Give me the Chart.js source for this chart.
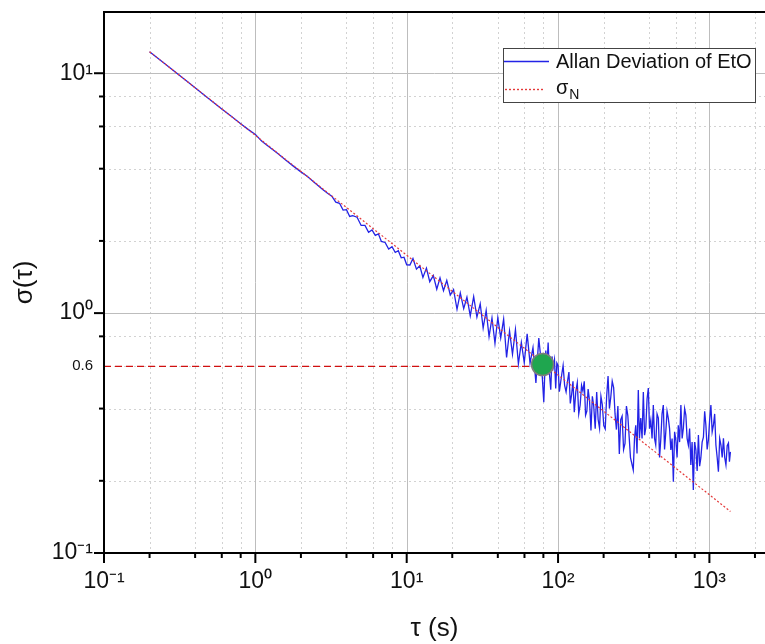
<!DOCTYPE html>
<html>
<head>
<meta charset="utf-8">
<title>Allan Deviation of EtO</title>
<script src="https://cdn.jsdelivr.net/npm/chart.js@4.4.1/dist/chart.umd.min.js"></script>
<style>
    html, body { margin: 0; padding: 0; background: #fff; }
    #wrap { width: 765px; height: 644px; }
</style>
</head>
<body>
<div id="wrap"><canvas id="adevChart" width="765" height="644"></canvas></div>
<script>
// Allan deviation of EtO (tau in s)
const tauValues = [
    0.2, 0.25, 0.3, 0.35, 0.4, 0.45, 0.5, 0.6, 0.7, 0.8, 0.9, 1.0, 1.1, 1.2, 1.4, 1.6, 1.8, 2.0, 2.2, 2.5, 2.8, 3.0,
    3.2, 3.4, 3.6, 3.8, 4.0, 4.2, 4.4, 4.7, 5.0, 5.3, 5.6, 5.9, 6.2, 6.5, 6.8, 7.2, 7.6, 8.0, 8.4, 8.8, 9.2, 9.6, 10,
    10.5, 11, 11.6, 12.2, 12.8, 13.5, 14.2, 15, 15.8, 16.6, 17.5, 18.4, 19.4, 20.4, 21.5, 22.6, 23.8, 25, 26.3, 27.7, 29.1, 30.6,
    32, 33.5, 35, 36.6, 38.3, 40, 41.8, 43.7, 45.7, 47.8, 50, 52.3, 54.7, 57.2, 59.8, 62.5, 65.3, 68.3, 71.4, 74.6, 78,
    80.5, 81.7, 83, 84.5, 86, 87.7, 89.5, 91.2, 93, 94.7, 96.5, 98.2, 100, 102, 104, 106, 108, 110.5, 113, 115.5,
    118, 120.5, 123, 125.5, 128, 131, 134, 137, 140, 143, 146, 149, 152, 155, 158, 161.5, 165, 168.5, 172, 176,
    180, 184, 188, 192, 196, 200.5, 205, 209.5, 214, 218.5, 223, 228, 233, 238, 243, 248.5, 254, 259.5, 265, 271,
    277, 283, 289, 301,
    314, 320, 326, 332.5, 339, 345, 352, 359, 366, 373, 380, 387.5, 395, 402, 410, 418, 426, 434, 442, 451,
    460, 468.5, 477, 486.5, 496, 505.5, 515, 525, 535, 545.5, 556, 567, 578, 589, 600, 611.5, 623, 635.5, 648, 660.5,
    673, 686, 699, 712.5, 726, 740, 754, 768.5, 783, 798.5, 814, 830, 846, 862, 878, 895.5, 913, 930.5, 948, 966.5,
    985, 1004, 1023, 1043, 1063, 1083.5, 1104, 1125.5, 1147, 1169.5, 1192, 1215, 1238, 1262, 1286, 1311, 1336, 1356.5, 1377
];
const sigmaValues = [
    12.3, 11.0, 10.05, 9.3, 8.69, 8.2, 7.77, 7.1, 6.58, 6.16, 5.82, 5.56, 5.22, 5.0, 4.64, 4.33, 4.08, 3.88, 3.72, 3.47, 3.27, 3.16,
    3.07, 2.90, 2.87, 2.69, 2.70, 2.53, 2.55, 2.51, 2.32, 2.32, 2.17, 2.22, 2.11, 2.14, 1.99, 1.97, 1.85, 1.89, 1.79, 1.82, 1.70, 1.71, 1.59,
    1.587, 1.690, 1.525, 1.575, 1.409, 1.540, 1.352, 1.434, 1.258, 1.403, 1.241, 1.370, 1.190, 1.253, 1.037, 1.214, 1.044, 1.165, 0.974, 1.172, 0.963, 1.094,
    0.866, 1.026, 0.798, 0.954, 0.748, 0.958, 0.788, 0.943, 0.653, 0.843, 0.674, 0.854, 0.614, 0.755, 0.621, 0.819, 0.619, 0.719, 0.512, 0.787, 0.594,
    0.425, 0.560, 0.698, 0.600, 0.754, 0.560, 0.479, 0.660, 0.598, 0.640, 0.485, 0.620, 0.606, 0.470, 0.514, 0.560, 0.605, 0.500, 0.470, 0.520,
    0.568, 0.420, 0.459, 0.520, 0.386, 0.470, 0.513, 0.380, 0.414, 0.500, 0.473, 0.520, 0.375, 0.390, 0.482, 0.430, 0.324, 0.450, 0.411, 0.330,
    0.469, 0.360, 0.331, 0.450, 0.416, 0.340, 0.329, 0.450, 0.547, 0.400, 0.446, 0.520, 0.489, 0.380, 0.327, 0.410, 0.259, 0.360, 0.372, 0.270,
    0.286, 0.410, 0.374, 0.250,
    0.222, 0.300, 0.341, 0.260, 0.478, 0.300, 0.365, 0.300, 0.469, 0.310, 0.332, 0.440, 0.487, 0.330, 0.358, 0.300, 0.414, 0.300, 0.282, 0.380,
    0.365, 0.250, 0.296, 0.380, 0.414, 0.270, 0.319, 0.390, 0.365, 0.330, 0.269, 0.300, 0.198, 0.320, 0.296, 0.250, 0.341, 0.290, 0.414, 0.300,
    0.332, 0.400, 0.376, 0.300, 0.282, 0.330, 0.233, 0.290, 0.183, 0.290, 0.269, 0.220, 0.310, 0.230, 0.249, 0.290, 0.304, 0.390, 0.341, 0.270,
    0.296, 0.360, 0.414, 0.320, 0.341, 0.380, 0.282, 0.250, 0.218, 0.300, 0.282, 0.250, 0.301, 0.250, 0.233, 0.280, 0.287, 0.240, 0.264
];

// sigma_N white-noise line (end points)
const tauNoise = [0.2, 1377];
const sigmaNoise = [12.3, 0.149];

// 0.6 reference level and marked point
const refTau = [0.1, 78];
const refSigma = [0.6, 0.6];
const markTau = [79];
const markSigma = [0.61];

// axis ticks
const xMajorTicks = [0.1, 1, 10, 100, 1000];
const xMinorTicks = [0.2, 0.4, 0.6, 0.8, 2, 4, 6, 8, 20, 40, 60, 80, 200, 400, 600, 800, 2000];
const xTickLabels = ['10\u207B\u00B9', '10\u2070', '10\u00B9', '10\u00B2', '10\u00B3'];
const yMajorTicks = [0.1, 1, 10];
const yMinorTicks = [0.2, 0.4, 0.6, 0.8, 2, 4, 6, 8];
const yLabelTicks = [0.1, 0.6, 1, 10];
const yTickLabels = ['10\u207B\u00B9', '0.6', '10\u2070', '10\u00B9'];

const FONT = "'Liberation Sans', Arial, Helvetica, sans-serif";

const BLUE = '#2323e6';
const RED = '#e43a3a';

function toPoints(xs, ys) {
    return xs.map((v, i) => ({ x: v, y: ys[i] }));
}

function labelFor(value, ticks, labels) {
    const i = ticks.findIndex(t => Math.abs(value - t) / t < 1e-6);
    return i >= 0 ? labels[i] : '';
}

function line(ctx, x1, y1, x2, y2) {
    ctx.beginPath();
    ctx.moveTo(x1, y1);
    ctx.lineTo(x2, y2);
    ctx.stroke();
}

// grid, frame, tick marks and the boxed legend
const frameAndLegend = {
    id: 'frameAndLegend',
    beforeDatasetsDraw(chart) {
        const { ctx, chartArea: a, scales: { x, y } } = chart;
        ctx.save();
        ctx.lineWidth = 1;
        ctx.strokeStyle = '#d2d2d2';
        ctx.setLineDash([2, 3]);
        xMinorTicks.forEach(v => {
            const px = Math.round(x.getPixelForValue(v)) + 0.5;
            line(ctx, px, a.top, px, a.bottom);
        });
        yMinorTicks.forEach(v => {
            const py = Math.round(y.getPixelForValue(v)) + 0.5;
            line(ctx, a.left, py, a.right, py);
        });
        ctx.setLineDash([]);
        ctx.strokeStyle = '#bdbdbd';
        xMajorTicks.forEach(v => {
            const px = Math.round(x.getPixelForValue(v)) + 0.5;
            line(ctx, px, a.top, px, a.bottom);
        });
        yMajorTicks.forEach(v => {
            const py = Math.round(y.getPixelForValue(v)) + 0.5;
            line(ctx, a.left, py, a.right, py);
        });
        ctx.restore();
    },
    afterDatasetsDraw(chart) {
        const { ctx, chartArea: a, scales: { x, y } } = chart;
        ctx.save();
        ctx.strokeStyle = '#000';
        ctx.lineWidth = 2;
        line(ctx, a.left, a.top, a.right, a.top);
        line(ctx, a.left, a.top - 1, a.left, a.bottom + 1);
        line(ctx, a.left - 1, a.bottom, a.right, a.bottom);

        xMajorTicks.forEach(v => {
            const px = x.getPixelForValue(v);
            line(ctx, px, a.bottom, px, a.bottom + 10);
        });
        xMinorTicks.forEach(v => {
            const px = x.getPixelForValue(v);
            line(ctx, px, a.bottom, px, a.bottom + 5);
        });
        yMajorTicks.forEach(v => {
            const py = y.getPixelForValue(v);
            line(ctx, a.left - 10, py, a.left, py);
        });
        yMinorTicks.filter(v => v !== 0.6).forEach(v => {
            const py = y.getPixelForValue(v);
            line(ctx, a.left - 5, py, a.left, py);
        });
        ctx.restore();

        // legend
        ctx.save();
        const bx = a.right - 262, by = a.top + 36, bw = 252, bh = 54;
        ctx.fillStyle = '#fff';
        ctx.fillRect(bx, by, bw, bh);
        ctx.lineWidth = 1;
        ctx.strokeStyle = '#444';
        ctx.strokeRect(bx + 0.5, by + 0.5, bw, bh);

        ctx.lineWidth = 1.4;
        ctx.strokeStyle = BLUE;
        line(ctx, bx + 1, by + 13.5, bx + 46, by + 13.5);
        ctx.strokeStyle = RED;
        ctx.setLineDash([2, 2]);
        line(ctx, bx + 2, by + 41.5, bx + 40, by + 41.5);
        ctx.setLineDash([]);

        ctx.fillStyle = '#111';
        ctx.textBaseline = 'middle';
        ctx.font = '20px ' + FONT;
        ctx.fillText('Allan Deviation of EtO', bx + 53, by + 14);
        ctx.fillText('\u03C3', bx + 53, by + 40);
        const sw = ctx.measureText('\u03C3').width;
        ctx.font = '14px ' + FONT;
        ctx.fillText('N', bx + 54 + sw, by + 47);
        ctx.restore();
    }
};

const ctx = document.getElementById('adevChart').getContext('2d');

new Chart(ctx, {
    type: 'scatter',
    data: {
        datasets: [
            {
                label: 'marked point',
                data: toPoints(markTau, markSigma),
                pointRadius: 11,
                pointBackgroundColor: '#1fa64f',
                pointBorderColor: '#7d7d7d',
                pointBorderWidth: 1.5,
                showLine: false,
                order: 0
            },
            {
                label: '0.6 level',
                data: toPoints(refTau, refSigma),
                showLine: true,
                borderColor: '#d01010',
                borderWidth: 1.3,
                borderDash: [7, 4],
                pointRadius: 0,
                order: 1
            },
            {
                label: '\u03C3N',
                data: toPoints(tauNoise, sigmaNoise),
                showLine: true,
                borderColor: RED,
                borderWidth: 1.2,
                borderDash: [2, 2],
                pointRadius: 0,
                order: 2
            },
            {
                label: 'Allan Deviation of EtO',
                data: toPoints(tauValues, sigmaValues),
                showLine: true,
                borderColor: BLUE,
                borderWidth: 1.3,
                pointRadius: 0,
                tension: 0,
                order: 3
            }
        ]
    },
    options: {
        responsive: false,
        animation: false,
        layout: { autoPadding: false, padding: { top: 12, right: 0, bottom: 0, left: 0 } },
        plugins: {
            legend: { display: false },
            tooltip: { enabled: false }
        },
        scales: {
            x: {
                type: 'logarithmic',
                min: 0.1,
                max: 2330,
                afterBuildTicks: s => { s.ticks = xMajorTicks.concat(xMinorTicks).sort((p, q) => p - q).map(v => ({ value: v })); },
                afterFit: s => { s.height = 91; s.paddingLeft = 0; s.paddingRight = 0; },
                grid: { display: false, drawTicks: false },
                border: { display: false },
                ticks: {
                    autoSkip: false,
                    maxRotation: 0,
                    padding: 15,
                    color: '#111',
                    font: { family: FONT, size: 23 },
                    callback: v => labelFor(v, xMajorTicks, xTickLabels)
                },
                title: {
                    display: true,
                    text: '\u03C4 (s)',
                    color: '#111',
                    font: { family: FONT, size: 26 },
                    padding: { top: 0, bottom: 0 }
                }
            },
            y: {
                type: 'logarithmic',
                min: 0.1,
                max: 18,
                afterBuildTicks: s => { s.ticks = yMajorTicks.concat(yMinorTicks).sort((p, q) => p - q).map(v => ({ value: v })); },
                afterFit: s => { s.width = 104; s.paddingTop = 0; s.paddingBottom = 0; },
                grid: { display: false, drawTicks: false },
                border: { display: false },
                ticks: {
                    autoSkip: false,
                    padding: 11,
                    color: '#111',
                    font: c => ({ family: FONT, size: (c.tick && c.tick.value === 0.6) ? 15 : 23 }),
                    callback: v => labelFor(v, yLabelTicks, yTickLabels)
                },
                title: {
                    display: true,
                    text: '\u03C3(\u03C4)',
                    color: '#111',
                    font: { family: FONT, size: 26 },
                    padding: { top: 9, bottom: 0 }
                }
            }
        }
    },
    plugins: [frameAndLegend]
});
</script>
</body>
</html>
